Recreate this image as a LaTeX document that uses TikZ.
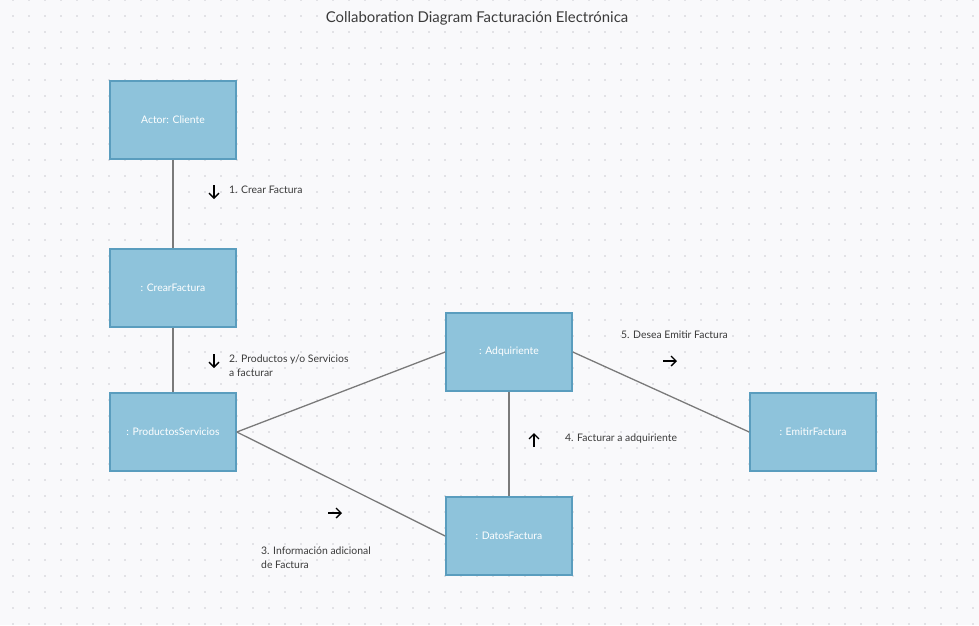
\documentclass[tikz,border=0pt]{standalone}
\usepackage{fontspec}
\setmainfont{Lato}
\usepackage{tikz}
\usetikzlibrary{arrows.meta}

\definecolor{boxfill}{HTML}{8EC3DB}
\definecolor{boxline}{HTML}{5A9DBE}
\definecolor{wire}{HTML}{7A7A7A}
\definecolor{paper}{HTML}{F9F9FB}
\definecolor{griddot}{HTML}{E2E2E6}
\definecolor{ink}{HTML}{3A3A3A}

\begin{document}
\begin{tikzpicture}[x=1pt, y=-1pt]
    \tikzstyle{obj} = [rectangle, minimum width=126pt, minimum height=78pt, text centered, draw=boxline, line width=1.6pt, fill=boxfill, text=white, font=\fontsize{10.4}{12}\selectfont]
    \tikzstyle{link} = [draw=wire, line width=1.3pt]
    \tikzstyle{msg} = [-{Straight Barb[length=5pt, width=10pt]}, line width=1.3pt, black]
    \tikzstyle{note} = [anchor=west, align=left, text=ink, inner sep=0pt, font=\fontsize{10.4}{14}\selectfont]
    % background and dots
    \fill[paper] (0,0) rectangle (979,625);
    \useasboundingbox (0,0) rectangle (979,625);
    \foreach \i in {0,...,60} {
        \foreach \j in {0,...,39} {
            \fill[griddot] (12+16*\i,-1+16*\j) rectangle ++(2,2);
        }
    }
    \node[text=ink, font=\fontsize{14.9}{17}\selectfont] (title) at (477,18) {Collaboration Diagram Facturación Electrónica};
    % objects
    \node (cliente) [obj] at (173,120) {Actor: Cliente};
    \node (crear) [obj] at (173,288) {: CrearFactura};
    \node (productos) [obj] at (173,432) {: ProductosServicios};
    \node (adquiriente) [obj] at (509,352) {: Adquiriente};
    \node (datos) [obj] at (509,536) {: DatosFactura};
    \node (emitir) [obj] at (813,432) {: EmitirFactura};
    % links
    \draw[link] (cliente.south) -- (crear.north);
    \draw[link] (crear.south) -- (productos.north);
    \draw[link] (productos.east) -- (adquiriente.west);
    \draw[link] (productos.east) -- (datos.west);
    \draw[link] (adquiriente.south) -- (datos.north);
    \draw[link] (adquiriente.east) -- (emitir.west);
    % messages
    \coordinate (m1a) at (214,185); \coordinate (m1b) at (214,199);
    \draw[msg] (m1a) -- (m1b);
    \node[note] (m1) at (229,190) {1. Crear Factura};
    \coordinate (m2a) at (214,354); \coordinate (m2b) at (214,368);
    \draw[msg] (m2a) -- (m2b);
    \node[note] (m2) at (229,366) {2. Productos y/o Servicios\\a facturar};
    \coordinate (m3a) at (328,513); \coordinate (m3b) at (342,513);
    \draw[msg] (m3a) -- (m3b);
    \node[note] (m3) at (261,558) {3. Información adicional\\de Factura};
    \coordinate (m4a) at (534,447); \coordinate (m4b) at (534,433);
    \draw[msg] (m4a) -- (m4b);
    \node[note] (m4) at (565,439) {4. Facturar a adquiriente};
    \coordinate (m5a) at (663,361); \coordinate (m5b) at (677,361);
    \draw[msg] (m5a) -- (m5b);
    \node[note] (m5) at (621,335) {5. Desea Emitir Factura};
\end{tikzpicture}
\end{document}
